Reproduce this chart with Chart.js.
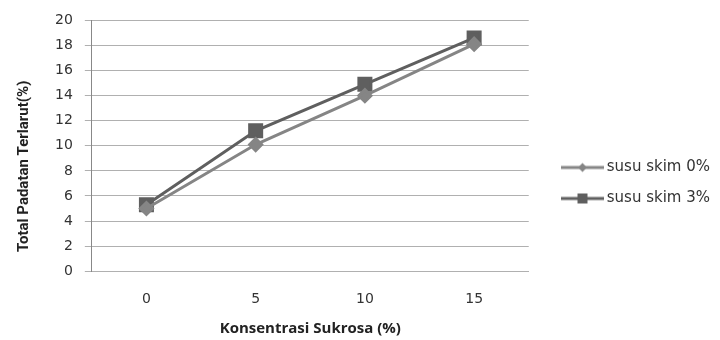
<!DOCTYPE html>
<html>
<head>
<meta charset="utf-8">
<script src="https://cdn.jsdelivr.net/npm/chart.js@4.4.3/dist/chart.umd.min.js"></script>
<style>
  html, body { margin: 0; padding: 0; background: #fff; }
  #wrap { width: 720px; height: 340px; }
</style>
</head>
<body>
<div id="wrap"><canvas id="tpt"></canvas></div>
<script>
// Konsentrasi sukrosa (%) vs total padatan terlarut (%)
const categories = ['0', '5', '10', '15'];
const susuSkim0 = [5.0, 10.1, 14.0, 18.1];
const susuSkim3 = [5.3, 11.2, 14.9, 18.6];
const seriesNames = ['susu skim 0%', 'susu skim 3%'];

const light = '#858585';
const dark = '#5f5f5f';

// legend icon: short line with the marker in the middle.
// the image is wider than the legend box so the line sits away from the plot
function legendIcon(color, shape) {
  const c = document.createElement('canvas');
  c.width = 64; c.height = 14;
  const g = c.getContext('2d');
  g.strokeStyle = color;
  g.lineWidth = 3;
  g.beginPath(); g.moveTo(21, 7); g.lineTo(64, 7); g.stroke();
  g.fillStyle = color;
  g.beginPath();
  if (shape === 'diamond') {
    g.moveTo(42.5, 2.5); g.lineTo(47, 7); g.lineTo(42.5, 11.5); g.lineTo(38, 7);
  } else {
    g.rect(37.5, 2, 10, 10);
  }
  g.fill();
  return c;
}
const icons = [legendIcon(light, 'diamond'), legendIcon(dark, 'square')];

new Chart(document.getElementById('tpt'), {
  type: 'line',
  data: {
    labels: categories,
    datasets: [{
      label: seriesNames[0],
      data: susuSkim0,
      borderColor: light,
      backgroundColor: light,
      borderWidth: 3,
      pointStyle: 'rectRot',
      pointRadius: 6,
      pointHoverRadius: 6,
      tension: 0
    }, {
      label: seriesNames[1],
      data: susuSkim3,
      borderColor: dark,
      backgroundColor: dark,
      borderWidth: 3,
      pointStyle: 'rect',
      pointRadius: 8.5,
      pointHoverRadius: 8.5,
      tension: 0
    }]
  },
  options: {
    responsive: true,
    maintainAspectRatio: false,
    animation: false,
    layout: { padding: { left: 11, right: 0, top: 10, bottom: 2 } },
    plugins: {
      tooltip: { enabled: false },
      legend: {
        position: 'right',
        maxWidth: 300,
        title: { display: true, text: ' ', color: 'rgba(0,0,0,0)', font: { size: 10 }, padding: { top: 3, bottom: 3 } },
        labels: {
          usePointStyle: true,
          pointStyleWidth: 54.5,
          boxHeight: 14,
          padding: 16,
          color: '#333',
          font: { family: 'DejaVu Sans', size: 15 },
          generateLabels: chart => {
            const items = Chart.defaults.plugins.legend.labels.generateLabels(chart);
            items.forEach((it, i) => { it.pointStyle = icons[i]; });
            return items;
          }
        }
      }
    },
    scales: {
      x: {
        offset: true,
        grid: { display: false },
        border: { display: true, color: '#b0b0b0' },
        ticks: { color: '#333', padding: 12, font: { family: 'DejaVu Sans', size: 14 } },
        title: {
          display: true,
          text: 'Konsentrasi Sukrosa (%)',
          color: '#222',
          padding: { top: 0, bottom: 0 },
          font: { family: 'Open Sans', size: 15, weight: 'bold' }
        }
      },
      y: {
        min: 0,
        max: 20,
        ticks: { stepSize: 2, color: '#333', padding: 12, font: { family: 'DejaVu Sans', size: 14 } },
        grid: { color: '#b0b0b0', tickLength: 7 },
        border: { color: '#888' },
        title: {
          display: true,
          // trailing spaces push the visible text a little below the axis centre
          text: 'Total Padatan Terlarut(%)           ',
          color: '#222',
          padding: { bottom: 10 },
          font: { family: 'Roboto', size: 15, weight: 'bold' }
        }
      }
    }
  }
});
</script>
</body>
</html>
